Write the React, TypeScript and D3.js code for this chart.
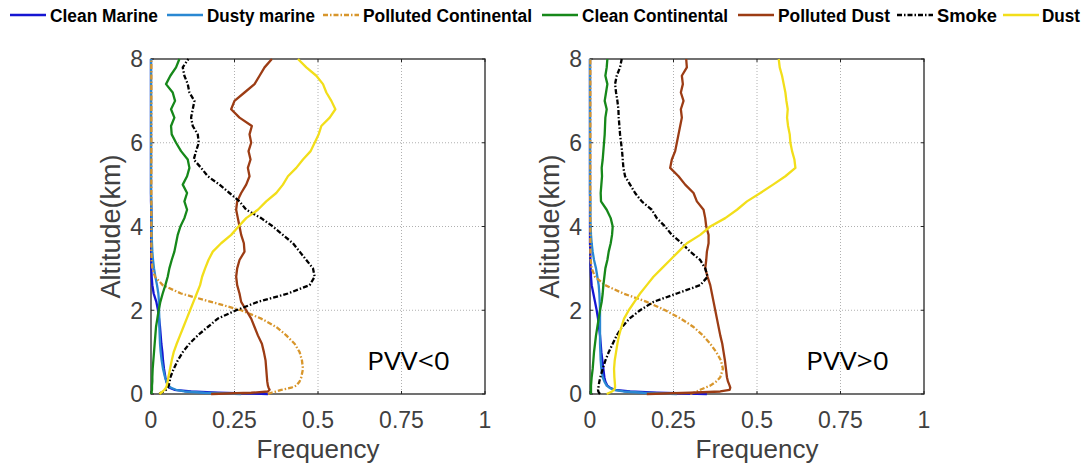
import React from "react";
import * as d3 from "d3";

// ---------------- data ----------------
const ALTITUDE = [
  0, 0.03, 0.06, 0.1, 0.15, 0.2, 0.3, 0.4,
  0.6, 0.8, 1.0, 1.2, 1.4, 1.6, 1.8, 2.0,
  2.2, 2.4, 2.6, 2.8, 3.0, 3.2, 3.4, 3.6,
  3.8, 4.0, 4.2, 4.4, 4.6, 4.8, 5.0, 5.2,
  5.4, 5.6, 5.8, 6.0, 6.2, 6.4, 6.6, 6.8,
  7.0, 7.2, 7.4, 7.6, 7.8, 8.0,
];

const SERIES_NAMES = [
  "Clean Marine",
  "Dusty marine",
  "Polluted Continental",
  "Clean Continental",
  "Polluted Dust",
  "Smoke",
  "Dust",
];

const X_TICKS = [0, 0.25, 0.5, 0.75, 1];
const X_TICK_LABELS = ["0", "0.25", "0.5", "0.75", "1"];
const Y_TICKS = [0, 2, 4, 6, 8];
const PANEL_LABELS = ["PVV<0", "PVV>0"];

// PVV < 0
const NEG_CLEAN_MARINE = [
  0.35, 0.2, 0.12, 0.07, 0.055, 0.05, 0.046, 0.043,
  0.039, 0.036, 0.034, 0.031, 0.029, 0.027, 0.024, 0.021,
  0.016, 0.008, 0.004, 0.002, 0.001, 0.001, 0.001, 0.001,
  0.001, 0.001, 0.001, 0.001, 0, 0, 0, 0,
  0, 0, 0, 0, 0, 0, 0, 0,
  0, 0, 0, 0, 0, 0,
];
const NEG_DUSTY_MARINE = [
  0.27, 0.16, 0.1, 0.075, 0.06, 0.052, 0.046, 0.042,
  0.036, 0.032, 0.029, 0.027, 0.026, 0.025, 0.025, 0.024,
  0.024, 0.022, 0.018, 0.013, 0.009, 0.006, 0.004, 0.003,
  0.002, 0.002, 0.002, 0.001, 0.001, 0, 0, 0,
  0, 0, 0, 0, 0, 0, 0, 0,
  0, 0, 0, 0, 0, 0,
];
const NEG_POLLUTED_CONT = [
  0.35, 0.36, 0.375, 0.39, 0.42, 0.435, 0.445, 0.45,
  0.455, 0.452, 0.445, 0.43, 0.405, 0.375, 0.33, 0.27,
  0.18, 0.09, 0.035, 0.012, 0.004, 0.002, 0.001, 0.001,
  0.001, 0.001, 0.001, 0.001, 0.001, 0.001, 0.001, 0.001,
  0.001, 0.001, 0.001, 0.001, 0.001, 0.001, 0.001, 0.001,
  0.001, 0.001, 0.001, 0.001, 0.001, 0.001,
];
const NEG_CLEAN_CONT = [
  0.002, 0.002, 0.002, 0.003, 0.003, 0.003, 0.004, 0.004,
  0.005, 0.007, 0.009, 0.011, 0.013, 0.015, 0.019, 0.023,
  0.028, 0.035, 0.043, 0.05, 0.055, 0.062, 0.07, 0.075,
  0.08, 0.088, 0.1, 0.108, 0.1, 0.108, 0.095, 0.108,
  0.115, 0.11, 0.09, 0.075, 0.062, 0.06, 0.07, 0.06,
  0.072, 0.065, 0.045, 0.058, 0.075, 0.085,
];
const NEG_POLLUTED_DUST = [
  0.18, 0.3, 0.35, 0.355, 0.352, 0.35, 0.348, 0.347,
  0.345, 0.343, 0.338, 0.332, 0.32, 0.31, 0.3, 0.285,
  0.27, 0.265, 0.258, 0.255, 0.258, 0.265, 0.28, 0.278,
  0.27, 0.265, 0.26, 0.255, 0.258, 0.27, 0.285, 0.295,
  0.29, 0.298, 0.292, 0.3, 0.295, 0.302, 0.265, 0.24,
  0.25, 0.28, 0.31, 0.325, 0.34, 0.362,
];
const NEG_SMOKE = [
  0.025, 0.03, 0.038, 0.045, 0.05, 0.053, 0.056, 0.058,
  0.068, 0.08, 0.095, 0.115, 0.14, 0.17, 0.2, 0.255,
  0.32, 0.41, 0.475, 0.49, 0.485, 0.465, 0.445, 0.425,
  0.395, 0.365, 0.33, 0.285, 0.265, 0.235, 0.205, 0.17,
  0.15, 0.128, 0.135, 0.143, 0.14, 0.125, 0.12, 0.125,
  0.13, 0.115, 0.11, 0.1, 0.095, 0.112,
];
const NEG_DUST = [
  0.025, 0.03, 0.035, 0.04, 0.045, 0.047, 0.05, 0.052,
  0.057, 0.062, 0.068, 0.077, 0.087, 0.097, 0.107, 0.117,
  0.127, 0.137, 0.147, 0.153, 0.162, 0.172, 0.185, 0.21,
  0.24, 0.262, 0.285, 0.32, 0.345, 0.375, 0.395, 0.41,
  0.435, 0.455, 0.478, 0.49, 0.502, 0.51, 0.535, 0.552,
  0.54, 0.525, 0.515, 0.495, 0.465, 0.44,
];

// PVV > 0
const POS_CLEAN_MARINE = [
  0.35, 0.2, 0.12, 0.075, 0.06, 0.052, 0.046, 0.043,
  0.04, 0.037, 0.034, 0.032, 0.03, 0.027, 0.024, 0.02,
  0.015, 0.01, 0.005, 0.003, 0.002, 0.001, 0.001, 0,
  0, 0, 0, 0, 0, 0, 0, 0,
  0, 0, 0, 0, 0, 0, 0, 0,
  0, 0, 0, 0, 0, 0,
];
const POS_DUSTY_MARINE = [
  0.26, 0.16, 0.1, 0.07, 0.058, 0.05, 0.043, 0.038,
  0.034, 0.032, 0.031, 0.03, 0.03, 0.03, 0.03, 0.03,
  0.029, 0.028, 0.026, 0.022, 0.018, 0.012, 0.008, 0.005,
  0.003, 0.002, 0.001, 0.001, 0.001, 0, 0, 0,
  0, 0, 0, 0, 0, 0, 0, 0,
  0, 0, 0, 0, 0, 0,
];
const POS_POLLUTED_CONT = [
  0.3, 0.31, 0.32, 0.33, 0.345, 0.36, 0.378, 0.39,
  0.398, 0.392, 0.378, 0.36, 0.338, 0.31, 0.272, 0.225,
  0.17, 0.1, 0.045, 0.015, 0.005, 0.002, 0.001, 0.001,
  0.001, 0.001, 0.001, 0.001, 0.001, 0.001, 0.001, 0.001,
  0.001, 0.001, 0.001, 0.001, 0.001, 0.001, 0.001, 0.001,
  0.001, 0.001, 0.001, 0.001, 0.001, 0.001,
];
const POS_CLEAN_CONT = [
  0.002, 0.003, 0.003, 0.003, 0.003, 0.003, 0.004, 0.005,
  0.008, 0.01, 0.012, 0.015, 0.018, 0.022, 0.026, 0.03,
  0.035, 0.038, 0.04, 0.043, 0.046, 0.052, 0.056, 0.062,
  0.066, 0.068, 0.062, 0.05, 0.033, 0.032, 0.034, 0.036,
  0.035, 0.038, 0.04, 0.042, 0.044, 0.045, 0.046, 0.05,
  0.044, 0.048, 0.052, 0.046, 0.05, 0.052,
];
const POS_POLLUTED_DUST = [
  0.17, 0.3, 0.39, 0.418, 0.42, 0.418, 0.413, 0.41,
  0.407, 0.404, 0.4, 0.396, 0.39, 0.385, 0.38, 0.375,
  0.37, 0.365, 0.36, 0.352, 0.345, 0.348, 0.35, 0.355,
  0.355, 0.348, 0.345, 0.34, 0.32, 0.31, 0.285, 0.265,
  0.24, 0.245, 0.255, 0.26, 0.265, 0.27, 0.275, 0.272,
  0.28, 0.272, 0.278, 0.275, 0.29, 0.288,
];
const POS_SMOKE = [
  0.03, 0.027, 0.025, 0.024, 0.025, 0.026, 0.028, 0.031,
  0.038, 0.046, 0.056, 0.068, 0.08, 0.096, 0.118, 0.15,
  0.19, 0.26, 0.33, 0.352, 0.345, 0.33, 0.3, 0.275,
  0.245, 0.225, 0.2, 0.185, 0.155, 0.135, 0.12, 0.105,
  0.1, 0.098, 0.096, 0.093, 0.09, 0.088, 0.086, 0.085,
  0.082, 0.078, 0.075, 0.08, 0.09, 0.095,
];
const POS_DUST = [
  0.05, 0.058, 0.066, 0.072, 0.075, 0.075, 0.074, 0.073,
  0.072, 0.074, 0.078, 0.082, 0.087, 0.094, 0.102, 0.116,
  0.133, 0.15, 0.17, 0.19, 0.215, 0.24, 0.265, 0.29,
  0.33, 0.36, 0.405, 0.44, 0.47, 0.51, 0.548, 0.585,
  0.615, 0.612, 0.605, 0.6, 0.598, 0.593, 0.59, 0.592,
  0.588, 0.585, 0.58, 0.575, 0.568, 0.565,
];

const NEG_SERIES = [
  NEG_CLEAN_MARINE, NEG_DUSTY_MARINE, NEG_POLLUTED_CONT, NEG_CLEAN_CONT,
  NEG_POLLUTED_DUST, NEG_SMOKE, NEG_DUST,
];
const POS_SERIES = [
  POS_CLEAN_MARINE, POS_DUSTY_MARINE, POS_POLLUTED_CONT, POS_CLEAN_CONT,
  POS_POLLUTED_DUST, POS_SMOKE, POS_DUST,
];

// ---------------- styles ----------------
const COLORS = ["#1515d2", "#2a88d2", "#d8962c", "#16881a", "#9c3c14", "#000000", "#f2de1a"];
const DASHES = [null, null, "5,2,1.5,2", null, null, "5,2,1.5,2", null];

const W = 1087;
const H = 471;
const PLOT_W = 334;
const PLOT_TOP = 59;
const PLOT_BOTTOM = 394;
const PANEL_X0 = [151, 590];

const LEGEND_LINE_X = [10, 167, 323, 542, 738, 897, 1003];
const LEGEND_LINE_LEN = 36;
const LEGEND_TEXT_X = [50, 207, 363, 582, 778, 937, 1042];
const LEGEND_TEXT_W = [108, 108, 169, 146, 112, 60, 38];
const LEGEND_LINE_Y = 15;
const LEGEND_TEXT_BASELINE = 21.5;

const AXIS_FONT = "'Liberation Sans', Arial, sans-serif";
const TICK_COLOR = "#404040";

function Panel({ x0, series, label }: { x0: number; series: number[][]; label: string }) {
  const x = d3.scaleLinear().domain([0, 1]).range([x0, x0 + PLOT_W]);
  const y = d3.scaleLinear().domain([0, 8]).range([PLOT_BOTTOM, PLOT_TOP]);
  const line = d3
    .line<[number, number]>()
    .x((d) => x(d[0]))
    .y((d) => y(d[1]));

  return (
    <g>
      <rect x={x0} y={PLOT_TOP} width={PLOT_W} height={PLOT_BOTTOM - PLOT_TOP} fill="#fff" />
      {/* grid */}
      {X_TICKS.slice(1, -1).map((t) => (
        <line key={"gx" + t} x1={x(t)} x2={x(t)} y1={PLOT_TOP} y2={PLOT_BOTTOM}
          stroke="#b0b0b0" strokeWidth={1} strokeDasharray="1,2" />
      ))}
      {Y_TICKS.slice(1, -1).map((t) => (
        <line key={"gy" + t} x1={x0} x2={x0 + PLOT_W} y1={y(t)} y2={y(t)}
          stroke="#b0b0b0" strokeWidth={1} strokeDasharray="1,2" />
      ))}
      {/* ticks */}
      {X_TICKS.map((t) => (
        <g key={"tx" + t}>
          <line x1={x(t)} x2={x(t)} y1={PLOT_BOTTOM} y2={PLOT_BOTTOM - 3} stroke="#262626" />
          <line x1={x(t)} x2={x(t)} y1={PLOT_TOP} y2={PLOT_TOP + 3} stroke="#262626" />
        </g>
      ))}
      {Y_TICKS.map((t) => (
        <g key={"ty" + t}>
          <line x1={x0} x2={x0 + 3} y1={y(t)} y2={y(t)} stroke="#262626" />
          <line x1={x0 + PLOT_W} x2={x0 + PLOT_W - 3} y1={y(t)} y2={y(t)} stroke="#262626" />
        </g>
      ))}
      {/* box */}
      <rect x={x0} y={PLOT_TOP} width={PLOT_W} height={PLOT_BOTTOM - PLOT_TOP}
        fill="none" stroke="#262626" strokeWidth={1.3} />
      {/* curves */}
      {series.map((vals, i) => {
        const pts: [number, number][] = vals.map((v, k) => [v, ALTITUDE[k]]);
        return (
          <path key={SERIES_NAMES[i]} d={line(pts) || ""} fill="none" stroke={COLORS[i]}
            strokeWidth={2.3} strokeLinejoin="round"
            strokeDasharray={DASHES[i] || undefined} />
        );
      })}
      {/* tick labels */}
      {X_TICKS.map((t, i) => (
        <text key={"lx" + t} x={x(t)} y={428} textAnchor="middle" fontSize={23}
          fontFamily={AXIS_FONT} fill={TICK_COLOR}>
          {X_TICK_LABELS[i]}
        </text>
      ))}
      {Y_TICKS.map((t) => (
        <text key={"ly" + t} x={x0 - 8} y={y(t)} dy="0.36em" textAnchor="end" fontSize={23}
          fontFamily={AXIS_FONT} fill={TICK_COLOR}>
          {t}
        </text>
      ))}
      <text x={x0 + PLOT_W / 2} y={458} textAnchor="middle" fontSize={26}
        fontFamily={AXIS_FONT} fill={TICK_COLOR}>
        Frequency
      </text>
      <text transform={`translate(${x0 - 31},${(PLOT_TOP + PLOT_BOTTOM) / 2}) rotate(-90)`}
        textAnchor="middle" fontSize={27} fontFamily={AXIS_FONT} fill={TICK_COLOR}>
        Altitude(km)
      </text>
      <text x={x0 + 216} y={370} fontSize={25} fontFamily="'Open Sans', 'Noto Sans', sans-serif"
        fill="#000" textLength={83} lengthAdjust="spacingAndGlyphs">
        {label}
      </text>
    </g>
  );
}

export default function App() {
  return (
    <svg width={W} height={H} viewBox={`0 0 ${W} ${H}`}
      style={{ position: "absolute", left: 0, top: 0, background: "#fff" }}>
      <rect x={0} y={0} width={W} height={H} fill="#fff" />
      {/* legend */}
      {SERIES_NAMES.map((name, i) => (
        <g key={name}>
          <line x1={LEGEND_LINE_X[i]} x2={LEGEND_LINE_X[i] + LEGEND_LINE_LEN}
            y1={LEGEND_LINE_Y} y2={LEGEND_LINE_Y}
            stroke={COLORS[i]} strokeWidth={2.4}
            strokeDasharray={DASHES[i] ? "5,2,1.5,2" : undefined} />
          <text x={LEGEND_TEXT_X[i]} y={LEGEND_TEXT_BASELINE} fontSize={18} fontWeight="bold"
            fontFamily={AXIS_FONT} fill="#000" textLength={LEGEND_TEXT_W[i]}
            lengthAdjust="spacingAndGlyphs">
            {name}
          </text>
        </g>
      ))}
      <Panel x0={PANEL_X0[0]} series={NEG_SERIES} label={PANEL_LABELS[0]} />
      <Panel x0={PANEL_X0[1]} series={POS_SERIES} label={PANEL_LABELS[1]} />
    </svg>
  );
}
